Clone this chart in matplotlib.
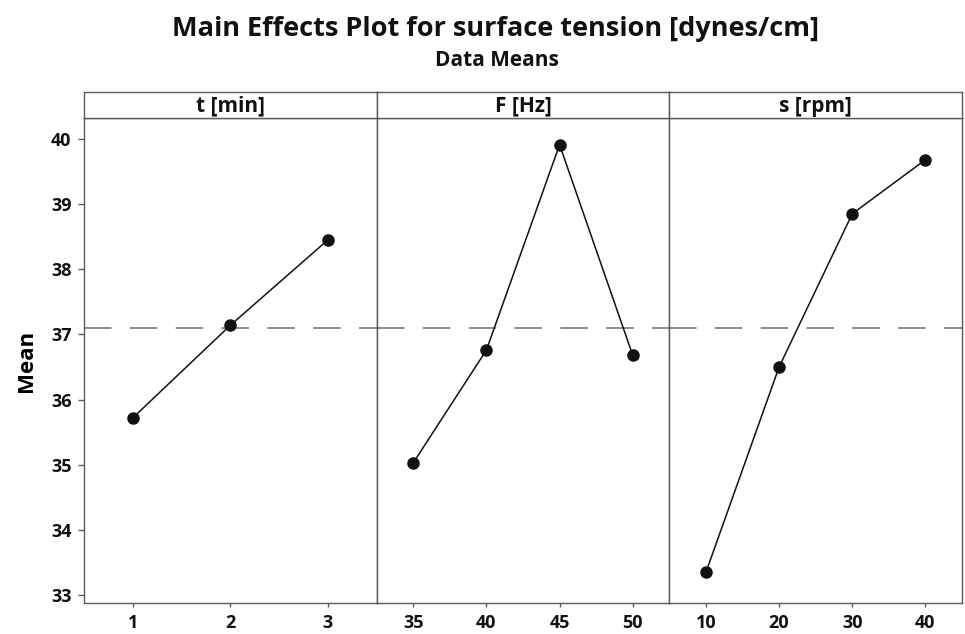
import matplotlib as mpl

mpl.use("Agg")
import matplotlib.pyplot as plt
import numpy as np

# factor levels and their response means
t_levels = ["1", "2", "3"]
t_means = [35.72, 37.14, 38.45]
f_levels = ["35", "40", "45", "50"]
f_means = [35.03, 36.76, 39.91, 36.68]
s_levels = ["10", "20", "30", "40"]
s_means = [33.35, 36.50, 38.85, 39.68]
grand_mean = 37.10

panels = [
    ("t [min]", t_levels, t_means),
    ("F [Hz]", f_levels, f_means),
    ("s [rpm]", s_levels, s_means),
]

FRAME = "#5a5a5a"
INK = "#111111"

plt.rcParams.update(
    {
        "font.family": ["Open Sans", "DejaVu Sans"],
        "font.weight": "bold",
        "axes.labelweight": "bold",
        "axes.edgecolor": FRAME,
        "axes.linewidth": 1.0,
        "xtick.color": FRAME,
        "ytick.color": FRAME,
        "xtick.labelcolor": INK,
        "ytick.labelcolor": INK,
    }
)

fig = plt.figure(figsize=(9.65, 6.34), dpi=100)
left, right = 84 / 965, 962 / 965
bottom, top = 1 - 603 / 634, 1 - 118 / 634
strip_h = 26 / 634
width = (right - left) / 3

axes = []
for i, (name, levels, means) in enumerate(panels):
    x0 = left + i * width
    ax = fig.add_axes([x0, bottom, width, top - bottom], sharey=axes[0] if axes else None)
    pos = np.arange(1, len(levels) + 1)
    ax.axhline(grand_mean, color="#6e6e6e", lw=1.1, dashes=(18, 12), zorder=1)
    ax.plot(pos, means, color=INK, lw=1.1, marker="o", ms=8, mfc=INK, mec=INK, zorder=3)
    ax.set_xlim(0.5, len(levels) + 0.5)
    ax.set_xticks(pos)
    ax.set_xticklabels(levels, fontsize=13)
    ax.tick_params(axis="x", length=3, width=1, pad=5)
    ax.set_ylim(32.88, 40.32)
    ax.set_yticks(np.arange(33, 41))
    if i == 0:
        ax.tick_params(axis="y", length=4, width=1, labelsize=13, pad=5)
        ax.set_ylabel("Mean", fontsize=16, labelpad=10)
    else:
        ax.tick_params(axis="y", left=False, labelleft=False)
    axes.append(ax)

    strip = fig.add_axes([x0, top, width, strip_h])
    strip.set_xticks([])
    strip.set_yticks([])
    strip.set_facecolor("white")
    strip.text(0.5, 0.45, name, ha="center", va="center", fontsize=15, color=INK,
               transform=strip.transAxes)

fig.text(496 / 965, 0.955, "Main Effects Plot for surface tension [dynes/cm]", ha="center",
         va="center", fontsize=19.5, color=INK)
fig.text(497 / 965, 0.905, "Data Means", ha="center", va="center", fontsize=15, color=INK)

fig.savefig("out.png", dpi=100)
